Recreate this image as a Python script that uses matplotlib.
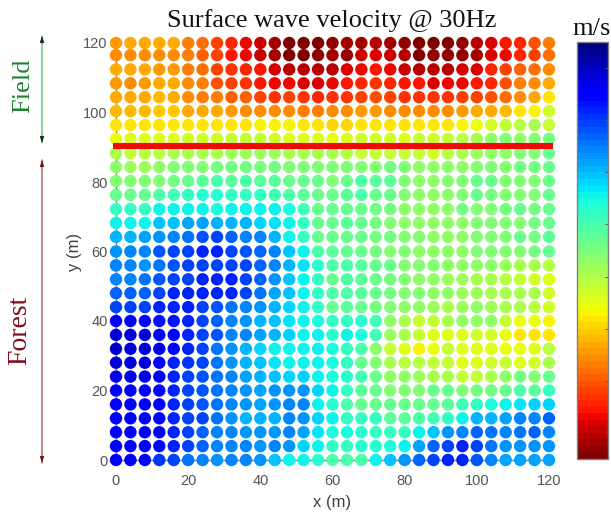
import matplotlib
matplotlib.use("Agg")
import matplotlib.pyplot as plt
import numpy as np

########
# donnees
########
x_m = [0, 4, 8, 12, 16, 20, 24, 28, 32, 36, 40, 44, 48, 52, 56, 60,
       64, 68, 72, 76, 80, 84, 88, 92, 96, 100, 104, 108, 112, 116, 120]
y_m = [120, 116.5, 112.4, 108.4, 104.4, 100.4, 96.4, 92.4, 88.3, 84.3, 80.3, 76.3, 72.2, 68.2, 64.2, 60,
       56, 52, 48, 44, 40, 36, 32, 28, 24, 20, 16, 12, 8, 4, 0]

# velocity as position on the colour bar (0 = top of the bar, 100 = bottom), no numbers on the bar
# one line per y, from y = 120 down to y = 0
velocity = [
    [74, 73, 73, 73, 73, 77, 79, 84, 87, 90, 93, 96, 99, 99, 100, 98, 96, 96, 95, 96, 98, 100, 100, 99, 98, 95, 92, 89, 87, 82, 78],
    [75, 75, 75, 75, 75, 78, 80, 84, 88, 90, 93, 96, 99, 99, 98, 96, 97, 93, 92, 93, 95, 99, 98, 98, 97, 96, 92, 90, 86, 84, 79],
    [73, 72, 72, 74, 74, 77, 79, 83, 85, 87, 89, 92, 95, 95, 95, 94, 92, 90, 89, 90, 93, 95, 95, 94, 92, 91, 87, 84, 81, 79, 76],
    [74, 75, 74, 73, 73, 76, 78, 82, 84, 85, 88, 90, 90, 91, 92, 90, 89, 87, 85, 87, 89, 89, 91, 90, 90, 89, 86, 82, 78, 75, 72],
    [72, 73, 72, 71, 72, 75, 77, 78, 80, 81, 83, 85, 84, 85, 86, 85, 85, 83, 82, 83, 85, 85, 85, 85, 84, 83, 82, 79, 75, 73, 66],
    [71, 71, 71, 70, 70, 72, 73, 73, 74, 75, 75, 76, 75, 77, 77, 76, 76, 74, 74, 75, 76, 76, 75, 76, 74, 73, 73, 71, 67, 65, 60],
    [66, 66, 66, 66, 66, 66, 66, 67, 67, 67, 65, 65, 65, 66, 66, 68, 68, 67, 66, 66, 67, 66, 66, 66, 65, 63, 60, 58, 57, 56, 58],
    [63, 62, 62, 62, 62, 60, 60, 60, 59, 59, 59, 60, 61, 61, 62, 63, 61, 60, 60, 60, 62, 59, 60, 58, 57, 55, 52, 51, 52, 50, 49],
    [56, 58, 57, 57, 56, 56, 55, 55, 54, 54, 54, 54, 55, 55, 56, 56, 57, 58, 58, 58, 59, 59, 60, 57, 55, 54, 53, 52, 50, 50, 47],
    [52, 54, 54, 52, 51, 50, 50, 49, 49, 49, 49, 49, 50, 50, 50, 51, 51, 50, 51, 49, 50, 53, 52, 52, 52, 50, 50, 50, 49, 49, 48],
    [51, 51, 50, 50, 49, 47, 46, 45, 46, 45, 46, 46, 47, 47, 48, 50, 47, 44, 46, 46, 50, 52, 52, 51, 50, 47, 47, 50, 50, 50, 47],
    [47, 48, 47, 45, 43, 42, 40, 40, 41, 42, 42, 43, 45, 46, 47, 48, 46, 45, 47, 48, 50, 52, 53, 52, 50, 48, 49, 50, 50, 50, 47],
    [42, 42, 42, 37, 36, 36, 37, 38, 37, 37, 37, 36, 39, 43, 47, 48, 47, 48, 49, 49, 52, 53, 52, 52, 49, 50, 50, 49, 47, 49, 47],
    [36, 37, 36, 32, 32, 29, 29, 30, 31, 31, 33, 35, 37, 42, 47, 48, 46, 48, 49, 50, 52, 53, 52, 52, 52, 51, 50, 50, 50, 49, 47],
    [31, 30, 29, 27, 25, 24, 21, 20, 22, 25, 26, 30, 37, 41, 47, 47, 47, 48, 49, 49, 51, 51, 52, 52, 52, 50, 50, 50, 48, 49, 46],
    [27, 26, 25, 21, 20, 19, 17, 17, 20, 21, 22, 25, 32, 36, 44, 46, 47, 48, 49, 50, 51, 52, 52, 52, 52, 51, 51, 50, 50, 49, 48],
    [26, 26, 27, 24, 21, 20, 20, 20, 19, 20, 22, 26, 31, 35, 40, 44, 45, 46, 48, 48, 50, 51, 51, 52, 52, 53, 53, 54, 55, 55, 57],
    [25, 25, 24, 21, 20, 19, 17, 16, 17, 20, 22, 27, 32, 36, 42, 47, 44, 46, 47, 49, 50, 52, 53, 54, 54, 56, 56, 57, 59, 60, 62],
    [22, 22, 22, 20, 17, 16, 16, 16, 17, 20, 24, 29, 32, 36, 41, 45, 44, 46, 48, 49, 50, 51, 52, 53, 54, 54, 55, 55, 56, 56, 60],
    [20, 19, 19, 17, 17, 16, 20, 21, 24, 25, 27, 31, 34, 36, 42, 47, 46, 47, 49, 50, 52, 53, 54, 55, 54, 53, 54, 56, 55, 57, 60],
    [11, 12, 11, 15, 15, 17, 20, 22, 26, 27, 30, 32, 35, 37, 38, 42, 42, 40, 43, 52, 55, 58, 59, 56, 53, 53, 53, 58, 63, 63, 65],
    [9, 8, 9, 11, 14, 17, 20, 21, 25, 26, 29, 31, 34, 36, 37, 40, 37, 38, 43, 54, 55, 59, 62, 62, 62, 60, 60, 64, 66, 67, 66],
    [7, 8, 9, 10, 14, 17, 19, 24, 27, 30, 33, 36, 37, 37, 37, 39, 42, 44, 52, 58, 61, 65, 64, 59, 61, 61, 61, 63, 63, 62, 57],
    [9, 9, 9, 11, 16, 18, 20, 24, 27, 30, 32, 35, 36, 36, 37, 39, 41, 47, 51, 55, 57, 57, 58, 59, 61, 61, 60, 59, 61, 60, 55],
    [10, 10, 10, 12, 17, 19, 21, 24, 26, 29, 30, 32, 34, 33, 36, 39, 40, 43, 48, 52, 53, 54, 55, 56, 59, 59, 56, 53, 49, 51, 47],
    [11, 11, 11, 13, 17, 19, 21, 24, 26, 28, 29, 28, 27, 27, 33, 36, 41, 46, 48, 50, 50, 50, 48, 48, 51, 49, 49, 48, 45, 46, 42],
    [12, 12, 12, 14, 17, 19, 21, 24, 26, 27, 29, 27, 26, 26, 36, 40, 44, 47, 48, 48, 48, 48, 47, 46, 43, 41, 38, 37, 35, 34, 33],
    [12, 12, 12, 14, 17, 19, 20, 24, 28, 30, 31, 30, 26, 27, 34, 37, 41, 42, 42, 46, 46, 44, 43, 41, 36, 31, 30, 29, 25, 25, 22],
    [11, 11, 11, 13, 17, 19, 22, 25, 26, 27, 28, 27, 25, 29, 35, 38, 38, 40, 41, 42, 42, 37, 32, 28, 25, 22, 24, 25, 24, 23, 25],
    [11, 11, 11, 13, 17, 19, 22, 25, 26, 26, 27, 26, 27, 33, 37, 42, 41, 40, 40, 38, 37, 29, 22, 20, 17, 19, 24, 27, 28, 28, 28],
    [11, 12, 13, 18, 20, 24, 26, 27, 26, 26, 28, 32, 36, 37, 40, 45, 45, 44, 37, 32, 27, 22, 20, 17, 17, 21, 26, 29, 29, 29, 29],
]
line_x = [-0.8, 121]
line_y = [90.4, 90.4]
bar_ticks = [6.25, 18.75, 31.25, 43.75, 56.25, 68.75, 81.25, 93.75]
x_ticks = [0, 20, 40, 60, 80, 100, 120]
y_ticks = [0, 20, 40, 60, 80, 100, 120]

W, H = 611, 512
grey = "#555555"
serif = "Liberation Serif"
sans = "Liberation Sans"

fig = plt.figure(figsize=(W / 100, H / 100), dpi=100)

#########
# le graphe
#########
ax = fig.add_axes([116 / W, (H - 460) / H, 433 / W, 417 / H])
X, Y = np.meshgrid(x_m, y_m)
pts = ax.scatter(X.ravel(), Y.ravel(), c=np.array(velocity).ravel(), cmap=plt.get_cmap("jet", 64),
                 vmin=0, vmax=100, s=80, linewidths=0, clip_on=False, zorder=3)
ax.plot(line_x, line_y, color="#f20a0a", lw=4.4, solid_capstyle="butt", clip_on=False, zorder=4)

ax.set_xlim(0, 120)
ax.set_ylim(0, 120)
ax.set_xticks(x_ticks)
ax.set_yticks(y_ticks)
ax.tick_params(direction="in", length=2, width=0.6, color=grey, labelcolor=grey, labelsize=10.5, pad=6)
ax.tick_params(axis="x", pad=10)
for lab in ax.get_xticklabels() + ax.get_yticklabels():
    lab.set_family(sans)
for side in ["top", "right"]:
    ax.spines[side].set_visible(False)
for side in ["left", "bottom"]:
    ax.spines[side].set_color("#808080")
    ax.spines[side].set_linewidth(1)
ax.set_xlabel("x (m)", family=sans, fontsize=12, color="#404040", labelpad=5)
ax.set_ylabel("y (m)", family=sans, fontsize=12, color="#404040", labelpad=1)

###########
# colour bar
###########
cax = fig.add_axes([577 / W, (H - 459) / H, 31 / W, 417 / H])
cb = fig.colorbar(pts, cax=cax)
cb.ax.invert_yaxis()
cb.set_ticks(bar_ticks)
cb.ax.tick_params(direction="in", length=2.5, width=0.7, color=grey, labelright=False)
cb.outline.set_edgecolor("#808080")
cb.outline.set_linewidth(1)

#######
# textes
#######
fig.text(332 / W, 1 - 21 / H, "Surface wave velocity @ 30Hz", family=serif, fontsize=19,
         color="#111111", ha="center", va="center")
fig.text(592 / W, 1 - 29 / H, "m/s", family=serif, fontsize=19, color="#111111", ha="center", va="center")
fig.text(23 / W, 1 - 86 / H, "Field", family=serif, fontsize=19, color="#1e8232",
         rotation=90, ha="center", va="center")
fig.text(20 / W, 1 - 330 / H, "Forest", family=serif, fontsize=20, color="#7f1018",
         rotation=90, ha="center", va="center")

########
# fleches
########
def fleche(y0, y1, line_color, head_color):
    ax.annotate("", xy=(42 / W, 1 - y0 / H), xytext=(42 / W, 1 - y1 / H), xycoords="figure fraction",
                textcoords="figure fraction", annotation_clip=False,
                arrowprops=dict(arrowstyle="-", color=line_color, lw=1.1, shrinkA=0, shrinkB=0))
    for a, b in [(y0, y1), (y1, y0)]:
        ax.annotate("", xy=(42 / W, 1 - a / H), xytext=(42 / W, 1 - (a + np.sign(b - a) * 7) / H),
                    xycoords="figure fraction", textcoords="figure fraction", annotation_clip=False,
                    arrowprops=dict(arrowstyle="-|>,head_width=0.13,head_length=0.4", color=head_color,
                                    lw=0.5, shrinkA=0, shrinkB=0))

fleche(36, 143, "#66cc77", "#222222")
fleche(160, 463, "#a86a72", "#7a1018")

plt.savefig("out.png", dpi=100)
